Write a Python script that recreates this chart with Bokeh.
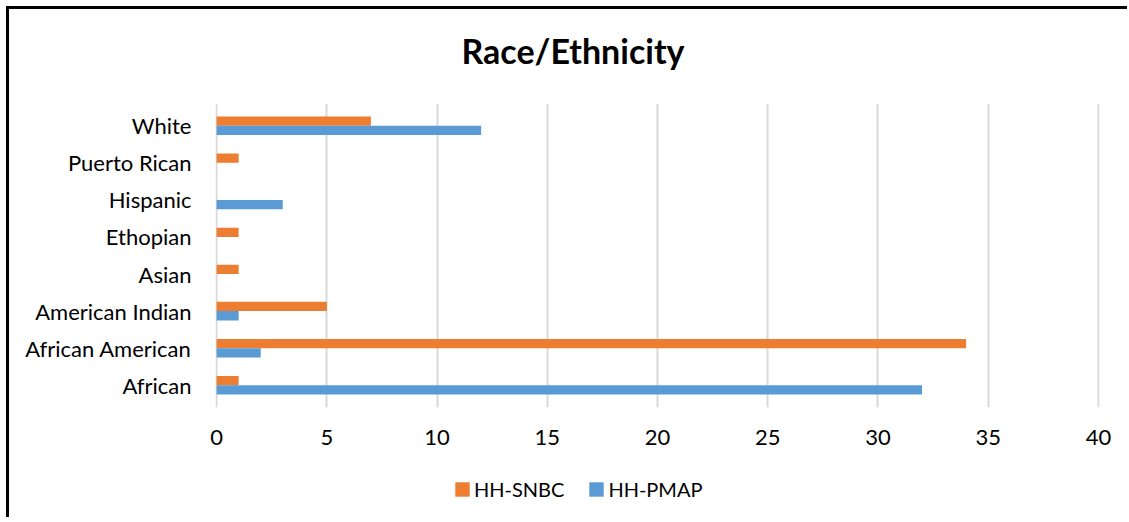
from bokeh.plotting import figure
from bokeh.layouts import column
from bokeh.models import ColumnDataSource, Legend, LegendItem, FixedTicker, FactorRange
from bokeh.transform import dodge
from bokeh.embed import file_html
from bokeh.resources import INLINE

categories = ["African", "African American", "American Indian", "Asian",
              "Ethopian", "Hispanic", "Puerto Rican", "White"]
hh_snbc = [1, 34, 5, 1, 1, 0, 1, 7]
hh_pmap = [32, 2, 1, 0, 0, 3, 0, 12]
x_ticks = [0, 5, 10, 15, 20, 25, 30, 35, 40]
series_names = ["HH-SNBC", "HH-PMAP"]
series_colors = ["#ED7D31", "#5B9BD5"]
chart_title = "Race/Ethnicity"

source = ColumnDataSource(dict(cat=categories, snbc=hh_snbc, pmap=hh_pmap))

FONT = "Lato"
W = 1118

# title strip (its frame is aligned with the chart's frame)
p0 = figure(width=W, height=70, x_range=(0, 1), y_range=(0, 1),
            output_backend="svg", toolbar_location=None,
            x_axis_location=None, y_axis_location=None,
            min_border_left=0, min_border_right=0, min_border_bottom=0,
            min_border_top=66, outline_line_color=None)
p0.grid.visible = False
p0.title.text = chart_title
p0.title.align = "left"
p0.title.offset = 246
p0.title.text_font = FONT
p0.title.text_font_size = "34px"
p0.title.text_font_style = "bold"
p0.title.text_color = "#000000"
p0.title.standoff = 10

p = figure(y_range=FactorRange(*categories, range_padding=0.1, range_padding_units="absolute"),
           x_range=(-0.05, 40.05), width=W, height=390,
           output_backend="svg", toolbar_location=None,
           min_border_left=206, min_border_right=28,
           min_border_top=24, min_border_bottom=62,
           outline_line_color=None)

r1 = p.hbar(y=dodge("cat", 0.125, range=p.y_range), right="snbc", left=0, height=0.25,
            source=source, fill_color=series_colors[0], line_color=None)
r2 = p.hbar(y=dodge("cat", -0.125, range=p.y_range), right="pmap", left=0, height=0.25,
            source=source, fill_color=series_colors[1], line_color=None)

p.xaxis.ticker = FixedTicker(ticks=x_ticks)
for ax in (p.xaxis[0], p.yaxis[0]):
    ax.axis_line_color = None
    ax.major_tick_line_color = None
    ax.minor_tick_line_color = None
    ax.major_tick_out = 0
    ax.major_tick_in = 0
    ax.major_label_text_font = FONT
    ax.major_label_text_font_size = "22px"
    ax.major_label_text_color = "#000000"
p.yaxis.major_label_standoff = 24
p.xaxis.major_label_standoff = 22

p.xgrid.grid_line_color = "#D9D9D9"
p.xgrid.grid_line_width = 2
p.ygrid.grid_line_color = None

# legend strip below the chart (its frame is aligned with the chart's frame)
p2 = figure(width=W, height=48, x_range=(0, 1), y_range=(0, 1),
            output_backend="svg", toolbar_location=None,
            x_axis_location=None, y_axis_location=None,
            min_border=0, outline_line_color=None)
p2.grid.visible = False
# zero-length bars: they draw nothing, they only give the legend its swatches
dummy = ColumnDataSource(dict(y=[0.5], zero=[0]))
lr1 = p2.hbar(y="y", left="zero", right="zero", height=0.5, source=dummy,
              fill_color=series_colors[0], line_color=None)
lr2 = p2.hbar(y="y", left="zero", right="zero", height=0.5, source=dummy,
              fill_color=series_colors[1], line_color=None)
legend = Legend(items=[LegendItem(label=series_names[0], renderers=[lr1]),
                       LegendItem(label=series_names[1], renderers=[lr2])],
                orientation="horizontal", location=(238, 16),
                border_line_color=None, background_fill_alpha=0,
                glyph_width=18, glyph_height=18, label_standoff=3, spacing=23,
                label_text_font=FONT, label_text_font_size="20px",
                label_text_color="#000000", padding=0, margin=0)
p2.add_layout(legend, "center")

layout = column(p0, p, p2, spacing=0, margin=(6, 0, 0, 6),
                styles={"border-top": "3px solid black", "border-left": "3px solid black"})

open("out.html", "w").write(file_html(layout, INLINE))
